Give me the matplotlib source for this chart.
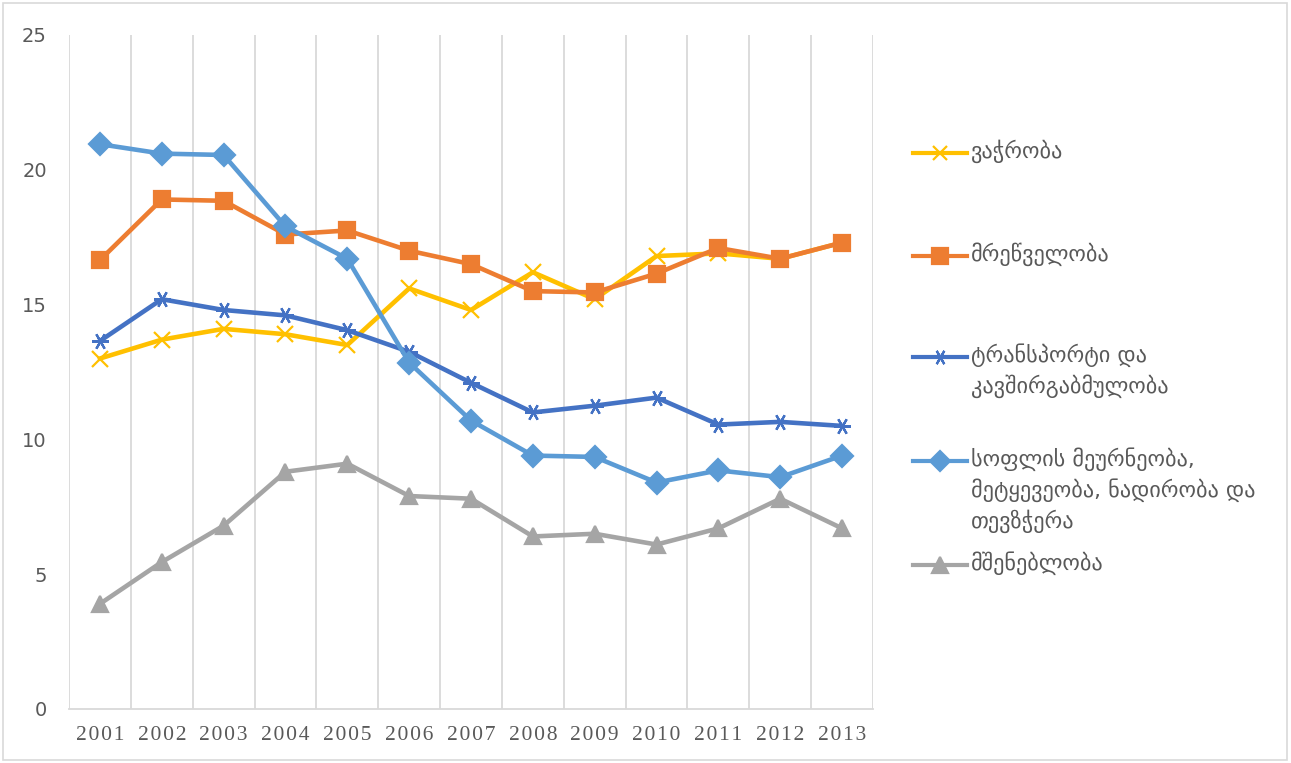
import matplotlib.pyplot as plt
from matplotlib.lines import Line2D
from matplotlib.patches import Rectangle

years = ['2001', '2002', '2003', '2004', '2005', '2006', '2007',
         '2008', '2009', '2010', '2011', '2012', '2013']

trade = [13.0, 13.7, 14.1, 13.9, 13.5, 15.6, 14.8, 16.2, 15.2, 16.8, 16.9, 16.7, 17.3]
industry = [16.65, 18.9, 18.85, 17.6, 17.75, 17.0, 16.5, 15.5, 15.45, 16.15, 17.1, 16.7, 17.3]
transport = [13.65, 15.2, 14.8, 14.6, 14.05, 13.25, 12.1, 11.0, 11.25, 11.55, 10.55, 10.65, 10.5]
agriculture = [20.95, 20.6, 20.55, 17.9, 16.7, 12.85, 10.7, 9.4, 9.35, 8.4, 8.85, 8.6, 9.4]
construction = [3.9, 5.45, 6.8, 8.8, 9.1, 7.9, 7.8, 6.4, 6.5, 6.1, 6.7, 7.8, 6.7]

labels = ['ვაჭრობა', 'მრეწველობა', 'ტრანსპორტი და\nკავშირგაბმულობა',
          'სოფლის მეურნეობა,\nმეტყევეობა, ნადირობა და\nთევზჭერა', 'მშენებლობა']

series = [trade, industry, transport, agriculture, construction]
colors = ['#FFC000', '#ED7D31', '#4472C4', '#5B9BD5', '#A5A5A5']
markers = ['x', 's', (6, 2, 90), 'D', '^']
msizes = [11, 12, 12, 11, 12]

fig = plt.figure(figsize=(12.91, 7.63), dpi=100)
ax = fig.add_axes([69 / 1291, 54 / 763, 804 / 1291, 674 / 763])

x = list(range(len(years)))
for s, c, m, ms in zip(series, colors, markers, msizes):
    ax.plot(x, s, color=c, lw=3.3, marker=m, ms=ms, mew=1.6,
            mec=c, mfc=c, solid_joinstyle='round', zorder=3)

ax.set_xlim(-0.5, len(years) - 0.5)
ax.set_ylim(0, 25)
ax.set_yticks([0, 5, 10, 15, 20, 25])
ax.set_xticks(x)
ax.set_xticklabels(['\u200a'.join(y) for y in years],
                   family=['Liberation Serif', 'DejaVu Serif'],
                   fontsize=15.5, color='#595959')
for xb in [i - 0.5 for i in range(len(years) + 1)]:
    ax.axvline(xb, color='#D9D9D9', lw=1.3, zorder=1)
for sp in ['top', 'right', 'left']:
    ax.spines[sp].set_visible(False)
ax.spines['bottom'].set_color('#D9D9D9')
ax.spines['bottom'].set_linewidth(1.3)
ax.tick_params(axis='both', length=0)
ax.tick_params(axis='x', pad=12)
ax.tick_params(axis='y', pad=16, labelsize=14, labelcolor='#595959')

# legend drawn by hand so the marker sits on the first text line
W, H = 1291, 763
first_line = [153, 256, 357, 461, 565]
for lab, c, m, ms, yp in zip(labels, colors, markers, msizes, first_line):
    yf = 1 - yp / H
    fig.add_artist(Line2D([913 / W, 967 / W], [yf, yf], color=c, lw=3.0,
                          transform=fig.transFigure))
    fig.add_artist(Line2D([940 / W], [yf], color=c, marker=m, ms=ms - 1,
                          mew=1.6, mec=c, mfc=c, transform=fig.transFigure))
    fig.text(971 / W, yf + 14 / H, lab, fontsize=16, color='#595959',
             va='top', ha='left', linespacing=1.42, family='DejaVu Sans')

fig.add_artist(Rectangle((3 / W, 3 / H), 1284 / W, 757 / H, fill=False,
                         edgecolor='#D9D9D9', lw=1.2, transform=fig.transFigure))

fig.savefig('out.png', dpi=100)
